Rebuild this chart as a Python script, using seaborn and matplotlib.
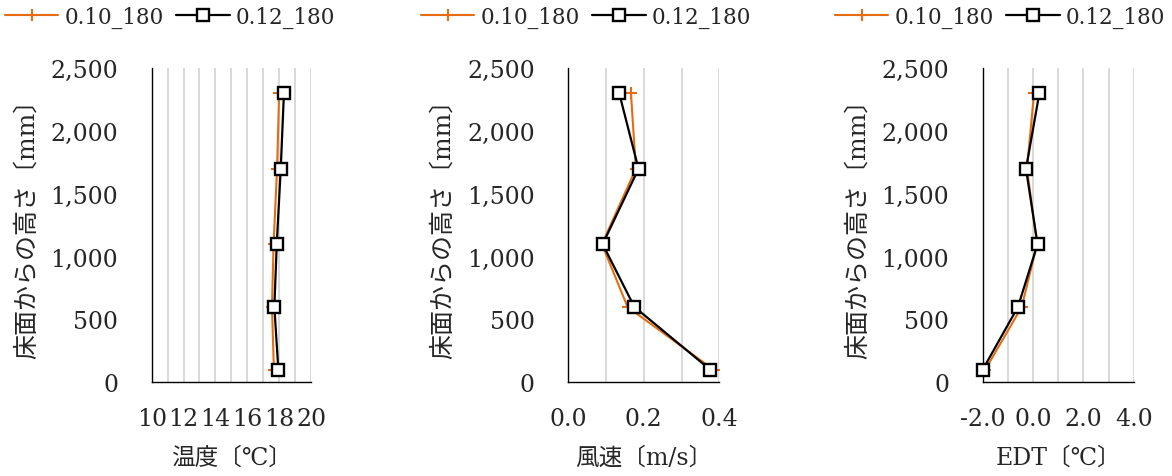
import matplotlib
matplotlib.use('Agg')
import matplotlib.pyplot as plt
import seaborn as sns
from matplotlib.ticker import MultipleLocator, FuncFormatter

# Style first, then fonts (set_style resets font.family)
sns.set_style("white")
plt.rcParams['font.family'] = ['DejaVu Serif', 'Noto Sans CJK JP']

# --- data ---
heights = [100, 600, 1100, 1700, 2300]
series_names = ['0.10_180', '0.12_180']

temp_010 = [17.67, 17.55, 17.65, 17.87, 18.0]
temp_012 = [17.95, 17.7, 17.85, 18.1, 18.3]

vel_010 = [0.385, 0.157, 0.089, 0.179, 0.166]
vel_012 = [0.376, 0.175, 0.091, 0.186, 0.135]

edt_010 = [-1.9, -0.45, 0.16, -0.24, 0.04]
edt_012 = [-2.0, -0.6, 0.18, -0.28, 0.25]

ylabel = '床面からの高さ〔mm〕'
xlabels = ['温度〔℃〕', '風速〔m/s〕', 'EDT〔℃〕']

ORANGE = '#E66C12'
GRID = '#D9D9D9'

W, H = 1172, 477
fig = plt.figure(figsize=(W / 100, H / 100), dpi=100)

# left edge / width of each plot area in pixels
panels = [
    dict(left=151.7, width=159.3, data=(temp_010, temp_012), xlim=(10, 20),
         major=2, minor=1, fmt='{:.0f}', legend_x=170),
    dict(left=568.3, width=151.0, data=(vel_010, vel_012), xlim=(0, 0.4),
         major=0.2, minor=0.1, fmt='{:.1f}', legend_x=586),
    dict(left=982.7, width=151.0, data=(edt_010, edt_012), xlim=(-2, 4),
         major=2, minor=1, fmt='{:.1f}', legend_x=1000),
]
top_px, bottom_px = 69.3, 383.3
ax_h = bottom_px - top_px

for p, xlab in zip(panels, xlabels):
    ax = fig.add_axes([p['left'] / W, 1 - bottom_px / H, p['width'] / W, ax_h / H])
    v010, v012 = p['data']

    sns.lineplot(x=v010, y=heights, ax=ax, sort=False, orient='y', errorbar=None,
                 color=ORANGE, lw=1.5, marker='+', markersize=9, mew=1.5,
                 mec=ORANGE, label=series_names[0], clip_on=False, zorder=3)
    sns.lineplot(x=v012, y=heights, ax=ax, sort=False, orient='y', errorbar=None,
                 color='black', lw=1.6, marker='s', markersize=9, mew=1.7,
                 markeredgecolor='black', markerfacecolor='white',
                 label=series_names[1], clip_on=False, zorder=4)

    ax.set_xlim(*p['xlim'])
    ax.set_ylim(0, 2500)
    ax.xaxis.set_major_locator(MultipleLocator(p['major']))
    ax.xaxis.set_minor_locator(MultipleLocator(p['minor']))
    ax.yaxis.set_major_locator(MultipleLocator(500))
    fmt = p['fmt']
    ax.xaxis.set_major_formatter(FuncFormatter(lambda v, pos, f=fmt: f.format(v)))
    ax.yaxis.set_major_formatter(FuncFormatter(lambda v, pos: '{:,.0f}'.format(v)))

    ax.xaxis.grid(True, which='both', color=GRID, lw=1.4)
    ax.yaxis.grid(False)
    ax.set_axisbelow(True)

    for s in ['top', 'right']:
        ax.spines[s].set_visible(False)
    for s in ['left', 'bottom']:
        ax.spines[s].set_color('black')
        ax.spines[s].set_linewidth(1.0)

    ax.tick_params(axis='x', which='major', direction='in', length=6, width=1.0,
                   pad=18, labelsize=17, color='black')
    ax.tick_params(axis='y', which='major', direction='in', length=6.5, width=1.0,
                   pad=24, labelsize=17, color='black')
    ax.tick_params(which='minor', length=0)

    ax.set_xlabel(xlab, fontsize=17)
    ax.set_ylabel(ylabel, fontsize=18)
    ax.xaxis.set_label_coords(0.5, -75 / ax_h)
    ax.xaxis.label.set_va('center')
    ax.yaxis.set_label_coords(-125 / p['width'], 0.51)
    ax.yaxis.label.set_va('center')

    ax.legend(loc='center', bbox_to_anchor=(p['legend_x'] / W, 1 - 18 / H),
              bbox_transform=fig.transFigure, ncol=2, frameon=False,
              fontsize=15.5, handlelength=2.5, handletextpad=0.27,
              columnspacing=0.6, borderpad=0, borderaxespad=0)

plt.savefig('out.png', dpi=100)
